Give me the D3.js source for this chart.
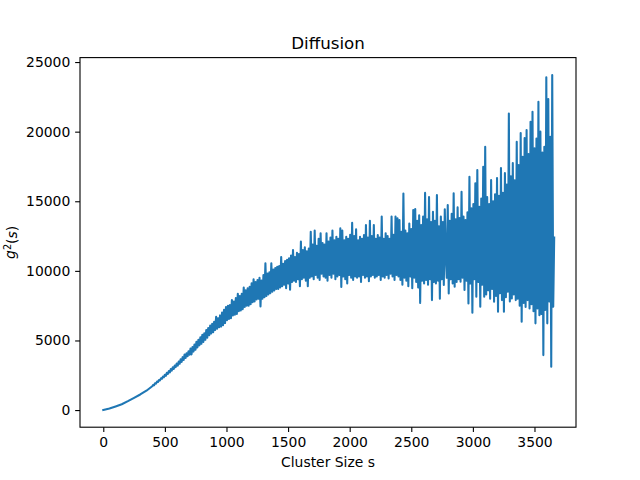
<!DOCTYPE html>
<html>
<head>
<meta charset="utf-8">
<script src="https://cdn.jsdelivr.net/npm/d3@7"></script>
<style>
  body { margin: 0; background: #fff; }
  svg { display: block; font-family: "DejaVu Sans", sans-serif; }
</style>
</head>
<body>
<div id="chart"></div>
<script>
// Chart text
const titleText = "Diffusion";
const xLabelText = "Cluster Size s";

// Tick values
const xTicks = [0, 500, 1000, 1500, 2000, 2500, 3000, 3500];
const yTicks = [0, 5000, 10000, 15000, 20000, 25000];

// Small cluster sizes, curve is smooth here
const sizesSmooth = [0, 50, 100, 150, 200, 250, 300, 350, 400];
const g2Smooth = [0, 110, 260, 420, 640, 880, 1120, 1390, 1730];

// Slightly rough part, every 8 sizes from 404 to 700
const roughStart = 404, roughStep = 8;
const g2Rough = [
  1800, 1780, 1925, 1900, 2040, 2020, 2160, 2130, 2280, 2250,
  2400, 2360, 2540, 2460, 2680, 2590, 2800, 2700, 2950, 2840,
  3070, 2960, 3200, 3090, 3350, 3190, 3480, 3330, 3650, 3460,
  3800, 3600, 3990, 3740, 4080, 3870, 4230, 3970
];

// Noisy part, every 8 sizes from 708 to 3660 (10 values per row = 80 sizes)
const noisyStart = 708, noisyStep = 8;
const g2Noisy = [
  4420, 4000, 4520, 4200, 4700, 4330, 4900, 4500, 5050, 4650,
  5230, 4760, 5400, 4900, 5520, 5050, 5750, 5200, 5900, 5380,
  6080, 5500, 6200, 5600, 6350, 5750, 6700, 5850, 6600, 5950,
  6800, 6000, 7000, 6100, 7200, 6250, 7400, 6450, 7500, 6550,
  7550, 6600, 7900, 6800, 7800, 6850, 8050, 6900, 8350, 7100,
  8200, 7150, 8350, 7250, 8800, 7400, 8600, 7500, 8750, 7500,
  8850, 7600, 9100, 7750, 9400, 7800, 9200, 7950, 9350, 8000,
  9500, 7450, 9300, 8000, 9700, 8100, 10540, 8200, 9800, 8300,
  9900, 8400, 10550, 8500, 10100, 8600, 10200, 8700, 10300, 8700,
  10350, 8800, 11000, 8900, 10500, 9000, 10700, 8750, 10800, 9100,
  10900, 8650, 11100, 9200, 11500, 9300, 11000, 9200, 11300, 9400,
  11200, 8900, 12100, 9400, 11500, 9500, 11700, 9300, 11400, 8900,
  11600, 9500, 12800, 9600, 11900, 9400, 12900, 9700, 11800, 9500,
  12300, 9350, 12700, 9800, 12000, 9600, 11900, 9500, 12700, 9300,
  12100, 9700, 12400, 9500, 12900, 9800, 12200, 9400, 12450, 9600,
  12300, 9700, 13050, 8850, 12900, 9600, 12200, 9400, 12450, 9100,
  12300, 9700, 12600, 9500, 13450, 9350, 12500, 9600, 12980, 9500,
  12200, 9600, 12450, 9200, 12300, 9700, 12570, 9500, 13300, 9600,
  12400, 9250, 13600, 9600, 12500, 9700, 13300, 9500, 12300, 9600,
  12570, 9700, 12400, 9350, 13900, 9600, 12300, 9500, 12700, 9700,
  12500, 9450, 12300, 9800, 13900, 9600, 12600, 9350, 13900, 9700,
  13770, 9600, 13650, 9340, 12800, 9000, 15550, 9500, 12900, 9300,
  12700, 8900, 13400, 9600, 13000, 8750, 14370, 9500, 14440, 9200,
  13600, 8800, 14000, 7700, 13300, 9300, 13900, 9100, 15600, 9350,
  13700, 9000, 15300, 9400, 13500, 7900, 14250, 9200, 13600, 9100,
  15450, 9300, 13200, 8000, 13900, 9400, 13500, 8980, 14420, 11000,
  9500, 14730, 8380, 13600, 9400, 14100, 9100, 15570, 8860, 13700,
  9200, 14560, 9400, 13800, 9220, 15680, 9500, 13900, 8620, 13650,
  9300, 14200, 7660, 16760, 9100, 14500, 6990, 14800, 9400, 16290,
  8140, 17240, 9200, 14600, 7420, 15200, 9000, 17480, 8140, 18920,
  8300, 15300, 8600, 14800, 8000, 16520, 8700, 15000, 7780, 15500,
  8200, 16670, 7060, 15400, 8400, 17390, 7900, 15600, 7060, 17020,
  8100, 16200, 8500, 21310, 7800, 16800, 8020, 17740, 8300, 16500,
  7900, 19280, 8000, 17600, 7500, 19900, 6340, 18200, 7700, 19540,
  7400, 20110, 7900, 18400, 7300, 20710, 7600, 21430, 7100, 18800,
  6230, 19500, 7300, 22150, 6820, 20000, 6900, 18500, 3950, 18920,
  7200, 23900, 6230, 22340, 7800, 19640, 3110, 24070, 7420, 12400
];

// Combine into one series for the line
const sizesRough = d3.range(roughStart, roughStart + roughStep * g2Rough.length, roughStep);
const sizesNoisy = d3.range(noisyStart, noisyStart + noisyStep * g2Noisy.length, noisyStep);
const points = sizesSmooth.map((s, i) => ({ s: s, g: g2Smooth[i] }))
  .concat(sizesRough.map((s, i) => ({ s: s, g: g2Rough[i] })))
  .concat(sizesNoisy.map((s, i) => ({ s: s, g: g2Noisy[i] })));

// Figure layout (matplotlib default 640x480)
const W = 640, H = 480;
const margin = { top: 57.6, right: 64, bottom: 52.8, left: 80 };
const width = W - margin.left - margin.right,
      height = H - margin.top - margin.bottom;

const svg = d3.select("#chart")
  .append("svg")
    .attr("width", W)
    .attr("height", H);

const g = svg.append("g")
  .attr("transform", `translate(${margin.left},${margin.top})`);

const x = d3.scaleLinear()
  .domain([-189, 3837])
  .range([0, width]);

const y = d3.scaleLinear()
  .domain([-1230, 25320])
  .range([height, 0]);

// Data line
const line = d3.line()
  .x(d => x(d.s))
  .y(d => y(d.g));

g.append("path")
  .datum(points)
  .attr("fill", "none")
  .attr("stroke", "#1f77b4")
  .attr("stroke-width", 2.08)
  .attr("stroke-linejoin", "round")
  .attr("stroke-linecap", "square")
  .attr("d", line);

// Axes
const tickLen = 4.86, tickPad = 4.86, fontSize = 13.9;

const xAxis = g.append("g")
  .attr("transform", `translate(0,${height})`)
  .call(d3.axisBottom(x).tickValues(xTicks).tickFormat(d3.format("d"))
    .tickSize(tickLen).tickPadding(tickPad).tickSizeOuter(0));

const yAxis = g.append("g")
  .call(d3.axisLeft(y).tickValues(yTicks).tickFormat(d3.format("d"))
    .tickSize(tickLen).tickPadding(tickPad).tickSizeOuter(0));

[xAxis, yAxis].forEach(a => {
  a.select(".domain").remove();
  a.selectAll("line").attr("stroke", "#000").attr("stroke-width", 1.1);
  a.selectAll("text")
    .attr("fill", "#000")
    .style("font-size", fontSize + "px")
    .style("font-family", "DejaVu Sans");
});

// Spines
g.append("rect")
  .attr("x", 0)
  .attr("y", 0)
  .attr("width", width)
  .attr("height", height)
  .attr("fill", "none")
  .attr("stroke", "#000")
  .attr("stroke-width", 1.1);

// Title
svg.append("text")
  .attr("x", margin.left + width / 2)
  .attr("y", 49)
  .attr("text-anchor", "middle")
  .style("font-size", "16.7px")
  .text(titleText);

// X label
svg.append("text")
  .attr("x", margin.left + width / 2)
  .attr("y", 467)
  .attr("text-anchor", "middle")
  .style("font-size", fontSize + "px")
  .text(xLabelText);

// Y label: g^2(s)
const yl = svg.append("text")
  .attr("transform", `translate(15,${margin.top + height / 2}) rotate(-90)`)
  .attr("text-anchor", "middle")
  .style("font-size", fontSize + "px");
yl.append("tspan").style("font-style", "italic").text("g");
yl.append("tspan").attr("dy", "-0.45em").style("font-size", "9.7px").text("2");
yl.append("tspan").attr("dy", "0.45em").text("(");
yl.append("tspan").style("font-style", "italic").text("s");
yl.append("tspan").text(")");
</script>
</body>
</html>
